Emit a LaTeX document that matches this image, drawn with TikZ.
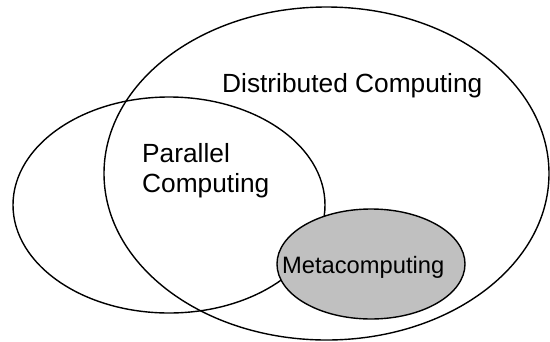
\documentclass[tikz,border=0pt]{standalone}
\usepackage{fontspec}
\setmainfont{Liberation Sans}
\usetikzlibrary{shapes.geometric}
\begin{document}
\begin{tikzpicture}[x=1pt,y=-1pt,
  setshape/.style={ellipse, draw=black, line width=1.4pt, inner sep=0pt},
  biglabel/.style={font=\fontsize{26.3}{29.5}\selectfont, inner sep=0pt, anchor=base west, align=left},
  smalllabel/.style={font=\fontsize{23.7}{26}\selectfont, inner sep=0pt, anchor=base west}
]
\useasboundingbox (0,0) rectangle (550,341);
\node[setshape, minimum width=445pt, minimum height=333pt] (dist) at (326.5,173.5) {};
\node[setshape, minimum width=312pt, minimum height=216pt] (par) at (169,205) {};
\node[setshape, fill={rgb,255:red,192;green,192;blue,192}, minimum width=188pt, minimum height=110pt] (meta) at (371,264) {};
\node[biglabel] (distlabel) at (222,92) {Distributed Computing};
\node[biglabel] (parlabel) at (142,192) {Parallel\\Computing};
\node[smalllabel] (metalabel) at (282,273) {Metacomputing};
\end{tikzpicture}
\end{document}
